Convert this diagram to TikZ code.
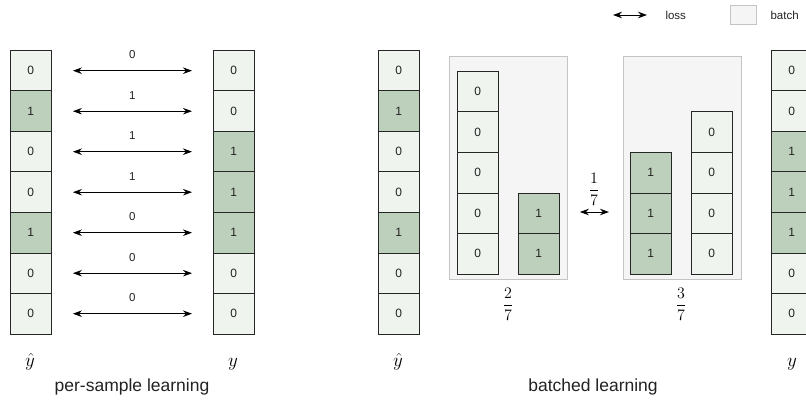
\RequirePackage{fix-cm}
\documentclass[tikz,border=0pt]{standalone}
\usepackage{amsmath}
\usepackage{fontspec}
\setmainfont{Liberation Sans}
\usetikzlibrary{arrows.meta}
\definecolor{lightc}{HTML}{EFF5EE}
\definecolor{darkc}{HTML}{BDD0BB}
\definecolor{batchfill}{HTML}{F5F5F5}
\definecolor{batchdraw}{HTML}{C4C4C4}
\definecolor{txt}{HTML}{222222}
\tikzset{
  cell/.style={draw=black!85, line width=0.9pt, minimum width=40.5pt, minimum height=40.5pt,
    inner sep=0pt, anchor=north west, font=\fontsize{12}{14}\selectfont, text=txt},
  c0/.style={cell, fill=lightc},
  c1/.style={cell, fill=darkc},
  loss/.style={{Stealth[length=9pt,width=6.5pt]}-{Stealth[length=9pt,width=6.5pt]}, line width=0.9pt},
  batchbox/.style={draw=batchdraw, fill=batchfill, line width=0.9pt, inner sep=0pt, anchor=north west},
  lbl/.style={font=\fontsize{11.5}{13}\selectfont, text=txt},
  frac/.style={font=\fontsize{16}{18}\selectfont},
  var/.style={font=\fontsize{19}{22}\selectfont, anchor=base},
  caption/.style={font=\fontsize{17.5}{20}\selectfont, anchor=base, text=txt}
}
\begin{document}
\begin{tikzpicture}[x=1pt,y=-1pt]
\useasboundingbox (0,0) rectangle (806,401);
% ---------------- per-sample learning ----------------
\foreach \v [count=\i] in {0,1,0,0,1,0,0}
  \node[c\v] (p\i) at (10,{50+(\i-1)*40.5}) {\v};
\foreach \v [count=\i] in {0,0,1,1,1,0,0}
  \node[c\v] (q\i) at (213,{50+(\i-1)*40.5}) {\v};
\foreach \l [count=\i] in {0,1,1,1,0,0,0}
  \draw[loss, shorten <=21.5pt, shorten >=21pt] (p\i.east) -- (q\i.west)
    node[lbl, midway, yshift=16pt] {\l};
\node[var] (yh1) at (30,366) {$\hat{y}$};
\node[var] (y1) at (233,366) {$y$};
\node[caption] (cap1) at (132,391) {per-sample learning};
% ---------------- batched learning ----------------
\foreach \v [count=\i] in {0,1,0,0,1,0,0}
  \node[c\v] (r\i) at (378,{50+(\i-1)*40.5}) {\v};
\foreach \v [count=\i] in {0,0,1,1,1,0,0}
  \node[c\v] (s\i) at (771,{50+(\i-1)*40.5}) {\v};
% batch 1
\node[batchbox, minimum width=118pt, minimum height=223pt] (b1) at (449,56) {};
\foreach \v [count=\i] in {0,0,0,0,0}
  \node[c\v] (ba\i) at (457,{71+(\i-1)*40.5}) {\v};
\foreach \v [count=\i] in {1,1}
  \node[c\v] (bb\i) at (518,{192.5+(\i-1)*40.5}) {\v};
\node[frac] (f1) at (508,304) {$\dfrac{2}{7}$};
% batch 2
\node[batchbox, minimum width=118pt, minimum height=223pt] (b2) at (623,56) {};
\foreach \v [count=\i] in {1,1,1}
  \node[c\v] (ca\i) at (630,{152+(\i-1)*40.5}) {\v};
\foreach \v [count=\i] in {0,0,0,0}
  \node[c\v] (cb\i) at (691,{111.5+(\i-1)*40.5}) {\v};
\node[frac] (f2) at (681,304) {$\dfrac{3}{7}$};
% loss between batches
\coordinate (mid) at (594,212);
\draw[loss, shorten <=12pt, shorten >=14pt] (b1.east |- mid) -- (b2.west |- mid);
\node[frac] (f3) at (594,189) {$\dfrac{1}{7}$};
\node[var] (yh2) at (398,366) {$\hat{y}$};
\node[var] (y2) at (792,366) {$y$};
\node[caption] (cap2) at (593,391) {batched learning};
% ---------------- legend ----------------
\coordinate (la) at (613,15);
\coordinate (lb) at (647,15);
\draw[loss] (la) -- (lb);
\node[lbl, anchor=west] (lossl) at (662,15) {loss};
\node[batchbox, anchor=center, minimum width=26pt, minimum height=19pt] (lbox) at (743,14.5) {};
\node[lbl, anchor=west] (batchl) at (767,15) {batch};
\end{tikzpicture}
\end{document}
